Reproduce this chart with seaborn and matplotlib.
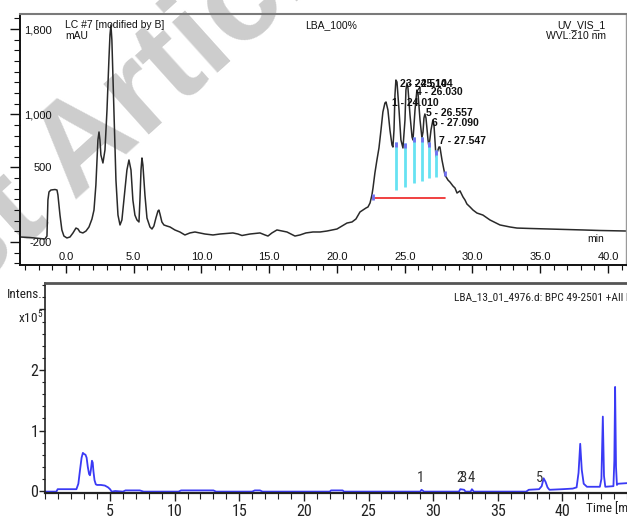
import matplotlib
matplotlib.use("Agg")
import matplotlib.pyplot as plt
import seaborn as sns
import pandas as pd
from matplotlib import font_manager as fm
from matplotlib.ticker import FixedLocator, MultipleLocator, FuncFormatter

sns.set_theme(style="white")
plt.rcParams['font.family'] = ['Liberation Sans', 'DejaVu Sans']
plt.rcParams['mathtext.default'] = 'regular'


def pick_narrow():
    for name in ['Liberation Sans Narrow', 'Roboto Condensed', 'Open Sans Condensed', 'Arial Narrow']:
        try:
            fm.findfont(fm.FontProperties(family=name), fallback_to_default=False)
            return [name], 1.0
        except ValueError:
            pass
    path = fm.findfont(fm.FontProperties(family='DejaVu Sans', stretch='condensed'))
    if 'Condensed' in path:
        return ['DejaVu Sans'], 0.85
    return ['Liberation Sans'], 0.82


NARROW, NSCALE = pick_narrow()
NSTRETCH = 'condensed'

# ---------------- UV trace (LC #7, mAU vs min) ----------------
uv_time = [-3.39, -2.66, -1.92, -1.55, -1.40, -1.33, -1.25, -1.11, -0.81, -0.66, -0.59, -0.44, -0.30, -0.15,
           0.07, 0.30, 0.52, 0.74, 0.89, 1.03, 1.25, 1.48, 1.70, 1.92, 2.07, 2.21, 2.29, 2.36, 2.44, 2.51,
           2.58, 2.73, 2.88, 3.03, 3.17, 3.25, 3.32, 3.39, 3.54, 3.69, 3.84, 3.99, 4.13, 4.28, 4.50, 4.65,
           4.80, 4.94, 5.09, 5.24, 5.39, 5.46, 5.54, 5.61, 5.68, 5.83, 5.98, 6.20, 6.35, 6.49, 6.64, 6.79,
           6.86, 6.94, 7.08, 7.23, 7.45, 7.68, 8.04, 8.41, 8.78, 9.15, 9.52, 9.89, 10.26, 10.85, 11.37,
           12.32, 12.69, 12.99, 13.58, 14.32, 14.69, 14.91, 15.20, 15.57, 15.94, 16.31, 16.61, 16.90, 17.27,
           17.71, 18.23, 18.75, 19.26, 19.63, 20.00, 20.37, 20.74, 21.11, 21.40, 21.70, 21.92, 22.14, 22.29,
           22.44, 22.58, 22.66, 22.80, 22.95, 23.10, 23.25, 23.39, 23.54, 23.62, 23.76, 23.91, 24.06, 24.13,
           24.21, 24.28, 24.35, 24.43, 24.58, 24.72, 24.87, 25.02, 25.09, 25.17, 25.24, 25.39, 25.54, 25.61,
           25.76, 25.90, 25.98, 26.13, 26.27, 26.35, 26.42, 26.49, 26.57, 26.72, 26.79, 26.94, 27.08, 27.16,
           27.31, 27.38, 27.53, 27.60, 27.75, 27.97, 28.19, 28.34, 28.56, 28.71, 28.86, 29.08, 29.30, 29.45,
           29.59, 29.82, 30.04, 30.33, 30.77, 31.29, 32.03, 32.77, 33.28, 34.24, 35.72, 37.20, 38.15, 39.41,
           41.40]
uv_mau = [-153, -158, -167, -172, -144, 194, 270, 288, 293, 288, 241, 53, -87, -144,
          -162, -153, -115, -69, -78, -106, -115, -97, -59, 16, 100, 335, 570, 758, 833, 758,
          617, 542, 664, 1040, 1509, 1744, 1838, 1697, 1040, 382, 53, -40, 7, 194, 476, 570,
          476, 194, 53, 7, -12, 194, 476, 589, 523, 241, 25, -59, -78, -50, 25, 91,
          100, 63, -12, -40, -50, -59, -87, -106, -134, -115, -106, -115, -125, -134, -125,
          -115, -125, -139, -125, -115, -134, -144, -115, -87, -97, -106, -125, -144, -134,
          -115, -106, -106, -97, -87, -78, -50, -22, -12, 16, 82, 100, 119, 129,
          166, 241, 307, 448, 570, 683, 852, 1021, 1105, 1115, 1040, 852, 711, 692,
          852, 1180, 1321, 1302, 1040, 758, 683, 946, 1227, 1293, 1246, 993, 786, 758,
          1040, 1227, 1199, 946, 777, 833, 964, 1002, 964, 758, 692, 852, 946, 899,
          598, 636, 692, 692, 570, 429, 382, 363, 326, 307, 260, 280, 223, 194,
          157, 129, 100, 72, 53, 7, -40, -59, -69, -73, -78, -83, -87, -92,
          -97]

# integration drop lines (start of each peak window)
drop_time = [24.35, 25.02, 25.68, 26.27, 26.79, 27.31]
drop_top = [739, 730, 786, 786, 739, 664]
drop_bottom = [288, 316, 354, 373, 401, 410]
baseline_time = [22.66, 27.97]
baseline_mau = [213, 213]

# peak labels (number - retention time)
peak_label = ["1 - 24.010", "2 - 24.514", "3 - 25.104", "4 - 26.030", "5 - 26.557", "6 - 27.090", "7 - 27.547"]
peak_label_t = [24.06, 24.65, 25.09, 25.83, 26.57, 27.01, 27.53]
peak_label_y = [1105, 1284, 1284, 1208, 1011, 917, 748]

uv_yticks = [-200, 500, 1000, 1800]
uv_xticks = [0, 5, 10, 15, 20, 25, 30, 35, 40]

# ---------------- MS BPC trace (intensity x1e5 vs min) ----------------
ms_time = [0.0, 0.85, 0.95, 1.5, 2.0, 2.4, 2.55, 2.68, 2.8, 2.9, 3.0, 3.1, 3.19, 3.28, 3.38, 3.45, 3.52,
           3.6, 3.66, 3.72, 3.8, 3.9, 4.0, 4.3, 4.6, 4.85, 5.0, 5.13, 5.4, 6.0, 6.2, 7.3, 7.6, 10.3, 10.5,
           13.0, 13.2, 16.0, 16.2, 16.6, 16.8, 22.0, 22.1, 23.0, 23.1, 29.0, 29.1, 29.3, 32.0, 32.1, 32.4,
           32.5, 32.9, 33.0, 33.15, 37.2, 37.4, 38.2, 38.4, 38.55, 38.7, 38.85, 39.0, 40.0, 40.8, 41.1,
           41.25, 41.38, 41.5, 41.65, 41.9, 42.9, 43.02, 43.13, 43.22, 43.32, 43.95, 44.02, 44.08, 44.15,
           44.22, 44.3, 45.0]
ms_int = [-0.01, -0.01, 0.03, 0.03, 0.03, 0.03, 0.12, 0.35, 0.55, 0.63, 0.61, 0.60, 0.55, 0.40, 0.28, 0.26,
          0.35, 0.50, 0.47, 0.32, 0.18, 0.11, 0.10, 0.10, 0.09, 0.06, 0.03, -0.01, 0.0, -0.01, 0.01, 0.01,
          -0.01, -0.01, 0.01, 0.01, -0.01, -0.01, 0.01, 0.01, -0.01, -0.01, 0.01, 0.01, -0.01, -0.01, 0.02,
          -0.01, -0.01, 0.03, 0.02, -0.01, -0.01, 0.03, -0.01, -0.01, 0.02, 0.03, 0.08, 0.21, 0.15, 0.06,
          0.02, 0.03, 0.04, 0.06, 0.30, 0.78, 0.35, 0.12, 0.07, 0.07, 0.20, 1.23, 0.25, 0.07, 0.08, 0.50,
          1.72, 0.40, 0.10, 0.12, 0.13]
ms_label = ["1", "2", "3", "4", "5"]
ms_label_t = [29.05, 32.07, 32.27, 32.97, 38.25]
ms_label_y = [0.21, 0.21, 0.21, 0.21, 0.21]
ms_yticks = [0, 1, 2, 3]
ms_yticklabels = ["0", "1", "2", ""]
ms_xticks = [5, 10, 15, 20, 25, 30, 35, 40]

W, H = 627, 518
fig = plt.figure(figsize=(W / 100, H / 100), dpi=100)
fig.patch.set_facecolor('white')

# watermark
fig.text(-33 / W, 1 - 298 / H, "st Article", rotation=42, rotation_mode='anchor', ha='left', va='baseline',
         fontsize=92, fontweight='bold', color='#cdcdcd', zorder=-5)

# ======== top panel ========
ax1 = fig.add_axes([20 / W, 1 - 265 / H, 606 / W, 251 / H])
ax1.set_facecolor('none')
uv_df = pd.DataFrame({"t": uv_time, "mAU": uv_mau})
sns.lineplot(data=uv_df, x="t", y="mAU", ax=ax1, sort=False, estimator=None, color='#2a2a2a', lw=1.1)
ax1.vlines(drop_time, drop_bottom, drop_top, color='#66e2f2', lw=2.0, zorder=3)
ax1.vlines(drop_time, [v - 45 for v in drop_top], drop_top, color='#7070f0', lw=2.0, zorder=4)
ax1.plot(baseline_time, baseline_mau, color='#ee2020', lw=1.2, zorder=3)
ax1.vlines(baseline_time, [baseline_mau[0] - 15, baseline_mau[1] + 210],
           [baseline_mau[0] + 35, baseline_mau[1] + 250], color='#7070f0', lw=2.0, zorder=4)
for lab, t, y in zip(peak_label, peak_label_t, peak_label_y):
    ax1.text(t, y, lab, fontsize=7.5, fontweight='bold', ha='left', va='center', color='#111111')

ax1.set_xlim(-3.39, 41.33)
ax1.set_ylim(-416, 1941)
ax1.set_xlabel("")
ax1.set_ylabel("")
ax1.yaxis.set_major_locator(FixedLocator(uv_yticks))
ax1.yaxis.set_minor_locator(MultipleLocator(100))
ax1.yaxis.set_major_formatter(FuncFormatter(lambda v, p: f"{int(v):,}"))
ax1.xaxis.set_major_locator(FixedLocator(uv_xticks))
ax1.xaxis.set_minor_locator(MultipleLocator(1))
ax1.xaxis.set_major_formatter(FuncFormatter(lambda v, p: f"{v:.1f}"))
ax1.tick_params(axis='y', which='major', left=True, direction='out', length=7, width=1, pad=-30,
                labelsize=8, colors='#111111')
ax1.tick_params(axis='y', which='minor', left=True, direction='out', length=4, width=0.8, color='#111111')
ax1.tick_params(axis='x', which='major', bottom=True, direction='out', length=6, width=1, pad=-15,
                labelsize=8, colors='#111111')
ax1.tick_params(axis='x', which='minor', bottom=True, direction='out', length=3.5, width=0.8, color='#111111')
for side in ['left', 'bottom']:
    ax1.spines[side].set_color('#111111')
    ax1.spines[side].set_linewidth(1.4)
ax1.spines['top'].set_color('#7a7a7a')
ax1.spines['top'].set_linewidth(1.5)
ax1.spines['right'].set_color('#9a9a9a')
ax1.spines['right'].set_linewidth(1.0)

fig.text(65 / W, 1 - 25 / H, "LC #7 [modified by B]", fontsize=7.5, va='center', ha='left', color='#111111')
fig.text(65 / W, 1 - 36 / H, "mAU", fontsize=7.5, va='center', ha='left', color='#111111')
fig.text(305 / W, 1 - 25 / H, "LBA_100%", fontsize=7.5, va='center', ha='left', color='#111111')
fig.text(606 / W, 1 - 25 / H, "UV_VIS_1", fontsize=7.5, va='center', ha='right', color='#111111')
fig.text(606 / W, 1 - 36 / H, "WVL:210 nm", fontsize=7.5, va='center', ha='right', color='#111111')
fig.text(587 / W, 1 - 239 / H, "min", fontsize=7.5, va='center', ha='left', color='#111111')

# ======== bottom panel ========
ax2 = fig.add_axes([45.4 / W, 1 - 493 / H, (W - 45.4) / W, 210 / H])
ax2.set_facecolor('none')
ms_df = pd.DataFrame({"t": ms_time, "I": ms_int})
sns.lineplot(data=ms_df, x="t", y="I", ax=ax2, sort=False, estimator=None, color='#3a3af5', lw=1.3)
nkw = dict(family=NARROW, stretch=NSTRETCH, color='#333333')
for lab, t, y in zip(ms_label, ms_label_t, ms_label_y):
    ax2.text(t, y, lab, fontsize=10.5 * NSCALE, ha='center', va='center', **nkw)
ax2.set_xlim(0, 45.0)
ax2.set_ylim(-0.033, 3.438)
ax2.set_xlabel("")
ax2.set_ylabel("")
ax2.yaxis.set_major_locator(FixedLocator(ms_yticks))
ax2.set_yticklabels(ms_yticklabels)
ax2.yaxis.set_minor_locator(MultipleLocator(0.2))
ax2.xaxis.set_major_locator(FixedLocator(ms_xticks))
ax2.xaxis.set_minor_locator(MultipleLocator(1))
ax2.tick_params(axis='y', which='major', left=True, direction='out', length=4, width=1, pad=1,
                labelsize=11.5 * NSCALE, colors='#222222')
ax2.tick_params(axis='y', which='minor', left=True, direction='out', length=2.5, width=0.8, color='#222222')
ax2.tick_params(axis='x', which='major', bottom=True, direction='out', length=6, width=1, pad=2,
                labelsize=11.5 * NSCALE, colors='#222222')
ax2.tick_params(axis='x', which='minor', bottom=True, direction='out', length=4, width=0.8, color='#222222')
for lab in ax2.get_xticklabels() + ax2.get_yticklabels():
    lab.set_family(NARROW)
    lab.set_stretch(NSTRETCH)
ax2.spines['left'].set_color('#222222')
ax2.spines['left'].set_linewidth(1.2)
ax2.spines['bottom'].set_color('#222222')
ax2.spines['bottom'].set_linewidth(1.6)
ax2.spines['top'].set_color('#555555')
ax2.spines['top'].set_linewidth(2.0)
ax2.spines['right'].set_visible(False)

nkw2 = dict(family=NARROW, stretch=NSTRETCH, color='#222222')
fig.text(43 / W, 1 - 295 / H, "Intens.", fontsize=9.5 * NSCALE, va='center', ha='right', **nkw2)
fig.text(43 / W, 1 - 318 / H, r"x10$^{5}$", fontsize=9.5 * NSCALE, va='center', ha='right', **nkw2)
fig.text(454 / W, 1 - 297 / H, "LBA_13_01_4976.d: BPC 49-2501 +All MS", fontsize=8.2 * NSCALE, va='center',
         ha='left', **nkw2)
fig.text(586 / W, 1 - 509 / H, "Time [min]", fontsize=9.5 * NSCALE, va='center', ha='left', **nkw2)

fig.savefig("out.png", dpi=100, facecolor='white')
